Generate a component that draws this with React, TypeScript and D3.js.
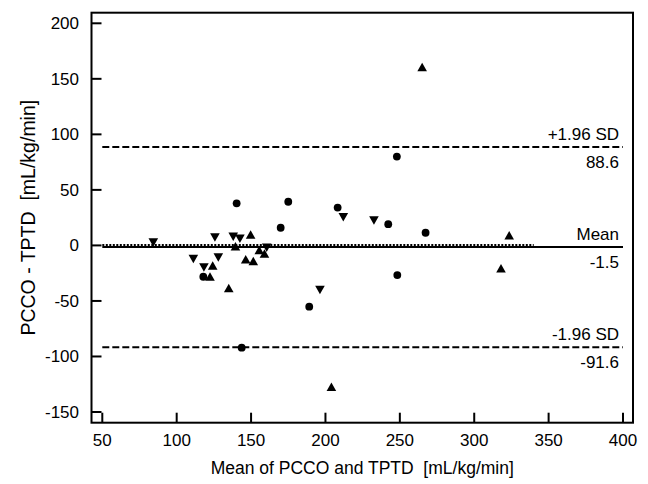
import React from "react";
import * as d3 from "d3";

const xTicks = [50, 100, 150, 200, 250, 300, 350, 400];
const yTicks = [-150, -100, -50, 0, 50, 100, 150, 200];

// Series: circles
const circleX = [140.3, 175.0, 208.2, 242.2, 169.9, 267.3, 248.3, 189.1, 117.9, 143.7, 248];
const circleY = [37.9, 39.3, 34.1, 19.1, 15.9, 11.4, -26.7, -55.2, -28.2, -92.1, 80];
// Series: up triangles
const upX = [149.7, 146.4, 151.5, 124.2, 122.4, 323.5, 318.0, 265, 204, 135, 155.5, 159, 139.5];
const upY = [9.1, -13.1, -14.7, -18.8, -28.7, 8.5, -21.2, 160, -128, -39, -4.8, -8, -1.5];
// Series: down triangles
const downX = [84.3, 125.7, 138.0, 142.5, 111.2, 128.0, 118.3, 212.0, 232.6, 196.3, 160.5];
const downY = [3.3, 7.8, 8.5, 6.7, -11.6, -10.2, -19.2, 26.0, 23.2, -39.5, -1.5];

const meanDiff = -1.5;
const upperLoA = 88.6;
const lowerLoA = -91.6;
const zeroLineEnd = 340;

const W = 648;
const H = 484;
const L = 91.5, R = 633, T = 12.7, B = 422.7;

export default function App() {
  const x = d3.scaleLinear().domain([50, 400]).range([102.3, 623]);
  const y = d3.scaleLinear().domain([-150, 200]).range([412, 23.3]);
  const font = "Arial, 'Liberation Sans', sans-serif";
  const fs = 17;

  const upPath = (cx: number, cy: number) =>
    `M${cx},${cy - 5}L${cx + 4.8},${cy + 3.5}L${cx - 4.8},${cy + 3.5}Z`;
  const downPath = (cx: number, cy: number) =>
    `M${cx},${cy + 5}L${cx + 4.8},${cy - 3.5}L${cx - 4.8},${cy - 3.5}Z`;

  const lineLabels = [
    { v: upperLoA, top: "+1.96 SD", bottom: upperLoA.toFixed(1) },
    { v: meanDiff, top: "Mean", bottom: meanDiff.toFixed(1) },
    { v: lowerLoA, top: "-1.96 SD", bottom: lowerLoA.toFixed(1) },
  ];

  return (
    <svg
      width={W}
      height={H}
      style={{ position: "absolute", left: 0, top: 0, background: "#fff" }}
      fontFamily={font}
    >
      <rect x={0} y={0} width={W} height={H} fill="#fff" />
      {/* reference lines */}
      <line x1={x(50)} x2={x(400)} y1={y(upperLoA)} y2={y(upperLoA)} stroke="#000" strokeWidth={2} strokeDasharray="7,3" />
      <line x1={x(50)} x2={x(400)} y1={y(lowerLoA)} y2={y(lowerLoA)} stroke="#000" strokeWidth={2} strokeDasharray="7,3" />
      <line x1={x(50)} x2={x(400)} y1={y(meanDiff)} y2={y(meanDiff)} stroke="#000" strokeWidth={2} />
      <line x1={x(50)} x2={x(zeroLineEnd)} y1={y(0) - 0.5} y2={y(0) - 0.5} stroke="#000" strokeWidth={2} strokeDasharray="2,1.5" />

      {/* line labels */}
      {lineLabels.map((d) => (
        <g key={d.top} fontSize={fs} textAnchor="end" fill="#000">
          <text x={619} y={y(d.v) - 7}>{d.top}</text>
          <text x={619} y={y(d.v) + 21}>{d.bottom}</text>
        </g>
      ))}

      {/* markers */}
      {circleX.map((v, i) => (
        <circle key={"c" + i} cx={x(v)} cy={y(circleY[i])} r={3.9} fill="#000" />
      ))}
      {upX.map((v, i) => (
        <path key={"u" + i} d={upPath(x(v), y(upY[i]))} fill="#000" />
      ))}
      {downX.map((v, i) => (
        <path key={"d" + i} d={downPath(x(v), y(downY[i]))} fill="#000" />
      ))}

      {/* frame */}
      <rect x={L} y={T} width={R - L} height={B - T} fill="none" stroke="#000" strokeWidth={2} />

      {/* ticks */}
      {xTicks.map((t) => (
        <g key={"xt" + t}>
          <line x1={x(t)} x2={x(t)} y1={B} y2={B - 10} stroke="#000" strokeWidth={2} />
          <text x={x(t)} y={446} fontSize={fs} textAnchor="middle" fill="#000">{t}</text>
        </g>
      ))}
      {yTicks.map((t) => (
        <g key={"yt" + t}>
          <line x1={L} x2={L + 10} y1={y(t)} y2={y(t)} stroke="#000" strokeWidth={2} />
          <text x={79} y={y(t) + 6} fontSize={fs} textAnchor="end" fill="#000">{t}</text>
        </g>
      ))}

      {/* axis titles */}
      <text x={(L + R) / 2} y={474} fontSize={17.5} textAnchor="middle" fill="#000" style={{ whiteSpace: "pre" }}>
        {"Mean of PCCO and TPTD  [mL/kg/min]"}
      </text>
      <text
        transform={`translate(35,${(T + B) / 2}) rotate(-90)`}
        fontSize={19.5}
        textAnchor="middle"
        fill="#000"
        style={{ whiteSpace: "pre" }}
      >
        {"PCCO - TPTD  [mL/kg/min]"}
      </text>
    </svg>
  );
}
